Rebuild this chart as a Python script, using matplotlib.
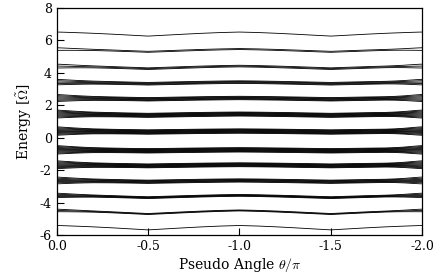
import numpy as np
import matplotlib
matplotlib.use('Agg')
import matplotlib.pyplot as plt

plt.rcParams['font.family'] = 'DejaVu Serif'
plt.rcParams['mathtext.fontset'] = 'cm'
plt.rcParams['axes.unicode_minus'] = False

# pseudo angle grid (theta / pi)
theta = [0.0, -0.02, -0.05, -0.1, -0.15, -0.2, -0.3, -0.4, -0.5, -0.6, -0.7, -0.8, -0.9, -1.0,
         -1.1, -1.2, -1.3, -1.4, -1.5, -1.6, -1.7, -1.8, -1.85, -1.9, -1.95, -1.98, -2.0]
# relative dip of the bands (0 at theta = 0, -1, -2 ; 1 at -0.5, -1.5)
dip_shape = [0.0, 0.02, 0.06, 0.14, 0.22, 0.31, 0.52, 0.76, 1.0, 0.76, 0.52, 0.3, 0.12, 0.0,
             0.12, 0.3, 0.52, 0.76, 1.0, 0.76, 0.52, 0.31, 0.22, 0.14, 0.06, 0.02, 0.0]
# how far the lines of a band fan out near the zone edges
fan_shape = [1.0, 0.9, 0.75, 0.5, 0.3, 0.15, 0.04, 0.0, 0.0, 0.0, 0.0, 0.0, 0.0, 0.0,
             0.0, 0.0, 0.0, 0.0, 0.0, 0.0, 0.0, 0.0, 0.12, 0.35, 0.7, 0.9, 1.0]

# bands of quasi energies
band_energy = [6.52, 5.47, 4.42, 3.43, 2.45, 1.46, 0.41, -0.75, -1.67, -2.64, -3.56, -4.49, -5.42]
band_dip = [0.25, 0.17, 0.16, 0.1, 0.08, 0.08, 0.06, 0.06, 0.07, 0.08, 0.14, 0.22, 0.27]
band_core = [0.0, 0.06, 0.1, 0.16, 0.21, 0.25, 0.27, 0.27, 0.24, 0.2, 0.11, 0.06, 0.0]
band_fan = [0.0, 0.1, 0.14, 0.18, 0.22, 0.24, 0.25, 0.25, 0.24, 0.22, 0.16, 0.1, 0.0]
band_lines = [1, 2, 3, 5, 7, 9, 10, 10, 9, 7, 5, 3, 1]

fig = plt.figure(figsize=(4.37, 2.78), dpi=100)
ax = fig.add_axes([0.130, 0.155, 0.836, 0.816])

th = np.array(theta)
dshape = np.array(dip_shape)
fshape = np.array(fan_shape)
for e, d, core, fan, n in zip(band_energy, band_dip, band_core, band_fan, band_lines):
    center = e - d * dshape
    width = core + fan * fshape
    for u in np.linspace(-0.5, 0.5, n) if n > 1 else [0.0]:
        ax.plot(th, center + u * width, color='black', lw=0.6)

ax.set_xlim(0, -2)
ax.set_ylim(-6, 8)
ax.set_xticks([0.0, -0.5, -1.0, -1.5, -2.0])
ax.set_xticklabels(['0.0', '-0.5', '-1.0', '-1.5', '-2.0'])
ax.set_yticks([-6, -4, -2, 0, 2, 4, 6, 8])
ax.tick_params(direction='in', length=5, width=0.8, labelsize=9, top=False, right=False)
for s in ax.spines.values():
    s.set_linewidth(0.9)

ax.set_xlabel(r'Pseudo Angle $\theta/\pi$', fontsize=10, labelpad=2)
ax.set_ylabel(r'Energy [$\tilde{\Omega}$]', fontsize=10, labelpad=4)

fig.savefig('out.png', dpi=100)
